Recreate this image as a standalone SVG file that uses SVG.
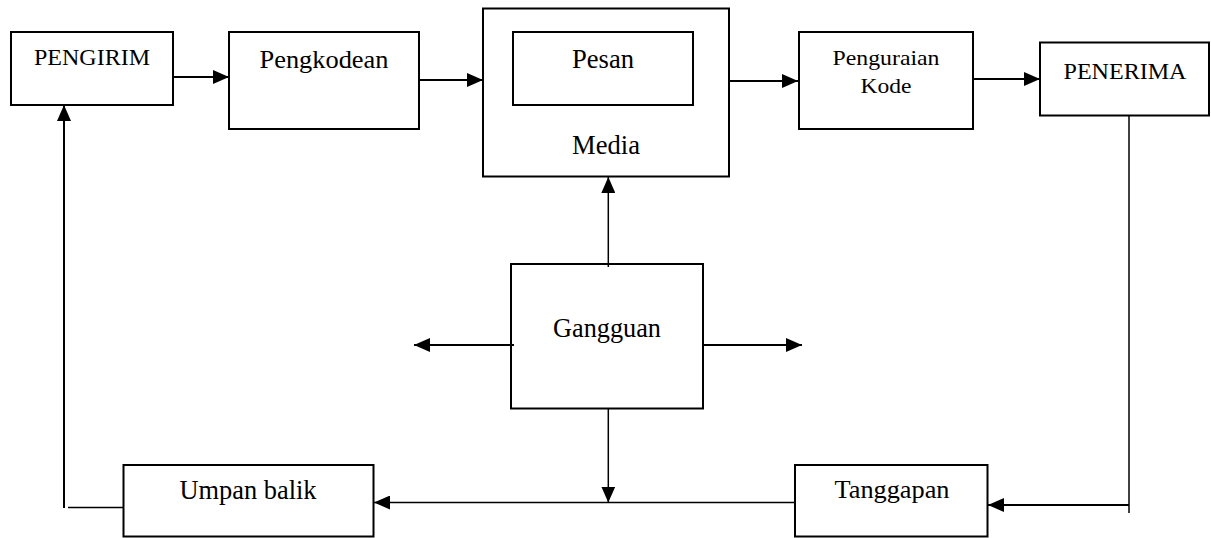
<svg xmlns="http://www.w3.org/2000/svg" width="1211" height="538" viewBox="0 0 1211 538">
<style>
.box{fill:#fff;stroke:#000;stroke-width:2}
.t{font-family:"Liberation Serif","Times New Roman",serif;fill:#000;text-anchor:middle}
.c{fill:none;stroke:#000;stroke-width:2}
.c2{fill:none;stroke:#000;stroke-width:1.5}
</style>
<defs>
<marker id="ah" markerUnits="userSpaceOnUse" markerWidth="16" markerHeight="14" refX="16" refY="7" orient="auto">
<path d="M0,0 L16,7 L0,14 z" fill="#000"/>
</marker>
</defs>
<rect width="1211" height="538" fill="#fff"/>
<g id="pengirim">
<rect class="box" x="11" y="32" width="162" height="73"/>
<text class="t" x="92" y="65" font-size="24" textLength="116" lengthAdjust="spacingAndGlyphs">PENGIRIM</text>
</g>
<g id="pengkodean">
<rect class="box" x="229" y="32" width="190" height="97"/>
<text class="t" x="324" y="68" font-size="26" textLength="129" lengthAdjust="spacingAndGlyphs">Pengkodean</text>
</g>
<g id="media">
<rect class="box" x="483" y="8.5" width="246" height="168"/>
<text class="t" x="606" y="154" font-size="26.5" textLength="68" lengthAdjust="spacingAndGlyphs">Media</text>
</g>
<g id="pesan">
<rect class="box" x="513" y="32" width="180" height="73"/>
<text class="t" x="603" y="68" font-size="26.5" textLength="62" lengthAdjust="spacingAndGlyphs">Pesan</text>
</g>
<g id="penguraian">
<rect class="box" x="799" y="32" width="174" height="97"/>
<text class="t" x="886" y="65" font-size="22" textLength="107" lengthAdjust="spacingAndGlyphs">Penguraian</text>
<text class="t" x="886" y="92.5" font-size="22" textLength="51" lengthAdjust="spacingAndGlyphs">Kode</text>
</g>
<g id="penerima">
<rect class="box" x="1040" y="42.5" width="169" height="73"/>
<text class="t" x="1125" y="79" font-size="24" textLength="123" lengthAdjust="spacingAndGlyphs">PENERIMA</text>
</g>
<g id="gangguan">
<rect class="box" x="511" y="264" width="192" height="144.5"/>
<text class="t" x="607" y="337" font-size="26.5" textLength="108" lengthAdjust="spacingAndGlyphs">Gangguan</text>
</g>
<g id="umpan-balik">
<rect class="box" x="123.5" y="465" width="250" height="71.5"/>
<text class="t" x="248" y="499" font-size="26.3" textLength="137" lengthAdjust="spacingAndGlyphs">Umpan balik</text>
</g>
<g id="tanggapan">
<rect class="box" x="795" y="465" width="192.5" height="71.5"/>
<text class="t" x="892" y="498" font-size="26" textLength="115" lengthAdjust="spacingAndGlyphs">Tanggapan</text>
</g>
<g id="connectors">
<line class="c" x1="174" y1="77" x2="229" y2="77" marker-end="url(#ah)"/>
<line class="c" x1="420" y1="80" x2="483" y2="80" marker-end="url(#ah)"/>
<line class="c" x1="730" y1="81" x2="798" y2="81" marker-end="url(#ah)"/>
<line class="c" x1="974" y1="79" x2="1040" y2="79" marker-end="url(#ah)"/>
<line class="c2" x1="1129" y1="116" x2="1129" y2="513"/>
<line class="c" x1="1129" y1="505" x2="988" y2="505" marker-end="url(#ah)"/>
<line class="c2" x1="795" y1="502.5" x2="374" y2="502.5" marker-end="url(#ah)"/>
<line class="c2" x1="608.3" y1="409" x2="608.3" y2="502.5" marker-end="url(#ah)"/>
<line class="c2" x1="608.3" y1="267" x2="608.3" y2="177" marker-end="url(#ah)"/>
<line class="c" x1="514" y1="345" x2="414" y2="345" marker-end="url(#ah)"/>
<line class="c" x1="703" y1="345" x2="802" y2="345" marker-end="url(#ah)"/>
<line class="c2" x1="124" y1="507.5" x2="68" y2="507.5"/>
<line class="c" x1="64" y1="508" x2="64" y2="105" marker-end="url(#ah)"/>
</g>
</svg>
